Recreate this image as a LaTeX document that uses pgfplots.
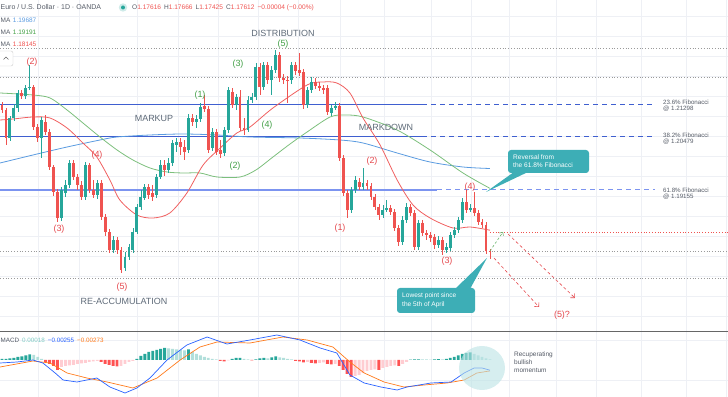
\documentclass[border=0pt]{standalone}
\usepackage{pgfplots}
\pgfplotsset{compat=1.18}
\usepackage{pgfplotstable}
\usepackage{fontspec}
\setmainfont{Liberation Sans}
\usetikzlibrary{arrows.meta}

\definecolor{upc}{HTML}{26A69A}
\definecolor{dnc}{HTML}{EF5350}
\definecolor{mared}{HTML}{F06060}
\definecolor{magreen}{HTML}{7CBF7C}
\definecolor{mablue}{HTML}{5A9BE0}
\definecolor{fibdark}{HTML}{3F5FD0}
\definecolor{fiblight}{HTML}{7C94F0}
\definecolor{wgreen}{HTML}{43A047}
\definecolor{wred}{HTML}{E5484D}
\definecolor{slate}{HTML}{5E6A78}
\definecolor{calloutc}{HTML}{3DAEB6}
\definecolor{gridc}{HTML}{EEF0F5}
\definecolor{dotg}{HTML}{9A9A9A}
\definecolor{macdblue}{HTML}{2962FF}
\definecolor{macdorange}{HTML}{FF7A1A}
\definecolor{hdg}{HTML}{26A69A}
\definecolor{hlg}{HTML}{B2DFDB}
\definecolor{hdr}{HTML}{FF5252}
\definecolor{hlr}{HTML}{FFCDD2}
\definecolor{txtg}{HTML}{555B66}
\definecolor{histtxt}{HTML}{80CBC4}
\newcommand{\fs}[1]{\fontsize{#1}{#1}\selectfont}

\pgfplotsset{
  panel/.style={
    scale only axis, width=728bp,
    xmin=-0.504, xmax=183.0,
    axis line style={draw=none}, major tick length=0pt,
    scaled ticks=false,
    xticklabel={\relax}, yticklabel={\relax},
    xtick={9.07,19.4,34.0,44.4,54.5,64.5,74.6,85.2,96.3,108.1,118.2,127.8,139.7,149.7,161.1,172.4,182.5},
    grid=major, major grid style={draw=gridc, line width=0.6bp},
    clip=true,
  }
}

\pgfplotstableread{
i o h l c
0 1.21275 1.21350 1.21075 1.21150
1 1.21150 1.21200 1.20275 1.20450
2 1.20450 1.21000 1.20375 1.20950
3 1.20950 1.21300 1.20875 1.21200
4 1.21200 1.21650 1.21100 1.21575
5 1.21575 1.21650 1.21425 1.21500
6 1.21500 1.21775 1.21425 1.21700
7 1.21700 1.22275 1.21650 1.21725
8 1.21725 1.21775 1.20650 1.20725
9 1.20725 1.20800 1.20350 1.20450
10 1.20450 1.20975 1.19950 1.20900
11 1.20850 1.21025 1.20525 1.20600
12 1.20600 1.20675 1.19650 1.19725
13 1.19725 1.19775 1.19000 1.19100
14 1.19100 1.19175 1.18350 1.18450
15 1.18450 1.19225 1.18375 1.19150
16 1.19075 1.19400 1.18975 1.19275
17 1.19275 1.19900 1.19200 1.19825
18 1.19825 1.19900 1.19400 1.19475
19 1.19475 1.19550 1.19150 1.19275
20 1.19275 1.19375 1.18900 1.18975
21 1.18975 1.19850 1.18900 1.19775
22 1.19775 1.19825 1.19075 1.19150
23 1.19150 1.19400 1.18950 1.19025
24 1.19025 1.19400 1.18925 1.19325
25 1.19325 1.19400 1.18400 1.18475
26 1.18475 1.18550 1.18000 1.18100
27 1.18100 1.18175 1.17575 1.17650
28 1.17650 1.18000 1.17575 1.17900
29 1.17900 1.17975 1.17550 1.17650
30 1.17650 1.17725 1.17075 1.17150
31 1.17200 1.17600 1.17125 1.17475
32 1.17475 1.17800 1.17400 1.17725
33 1.17650 1.18200 1.17575 1.18100
34 1.18100 1.18800 1.18050 1.18725
35 1.18725 1.19150 1.18650 1.18975
36 1.18950 1.19300 1.18900 1.19225
37 1.19225 1.19300 1.18925 1.19025
38 1.19075 1.19275 1.18875 1.18975
39 1.19025 1.19550 1.18950 1.19475
40 1.19475 1.19900 1.19425 1.19775
41 1.19775 1.19900 1.19500 1.19650
42 1.19650 1.19950 1.19575 1.19825
43 1.19825 1.20400 1.19750 1.20325
44 1.20275 1.20450 1.20100 1.20350
45 1.20350 1.20450 1.20025 1.20225
46 1.20225 1.20400 1.19900 1.20100
47 1.20150 1.21050 1.20075 1.20950
48 1.20950 1.21050 1.20750 1.20850
49 1.20850 1.21025 1.20700 1.20925
50 1.20925 1.21325 1.20850 1.21225
51 1.21250 1.21525 1.21100 1.21175
52 1.21175 1.21250 1.20075 1.20150
53 1.20200 1.20700 1.20125 1.20600
54 1.20600 1.20675 1.20025 1.20100
55 1.20150 1.20400 1.19950 1.20050
56 1.20075 1.20725 1.20000 1.20650
57 1.20650 1.21725 1.20575 1.21650
58 1.21600 1.21700 1.21200 1.21275
59 1.21275 1.21550 1.21150 1.21475
60 1.21475 1.21650 1.20625 1.20700
61 1.20700 1.20950 1.20525 1.20650
62 1.20650 1.21500 1.20600 1.21400
63 1.21400 1.21575 1.21325 1.21475
64 1.21475 1.22325 1.21400 1.22225
65 1.22225 1.22325 1.21525 1.21725
66 1.21725 1.22350 1.21650 1.22275
67 1.22275 1.22350 1.21800 1.21900
68 1.21900 1.22250 1.21525 1.22150
69 1.22150 1.22650 1.22075 1.22525
70 1.22525 1.22600 1.21850 1.21950
71 1.21950 1.22050 1.21800 1.21900
72 1.21900 1.22000 1.21325 1.21875
73 1.21900 1.22350 1.21800 1.22275
74 1.22275 1.22350 1.22025 1.22125
75 1.22150 1.22575 1.22000 1.22075
76 1.22100 1.22175 1.21175 1.21275
77 1.21275 1.21725 1.21200 1.21650
78 1.21650 1.21975 1.21575 1.21850
79 1.21850 1.21950 1.21675 1.21750
80 1.21750 1.21850 1.21625 1.21700
81 1.21700 1.21775 1.21550 1.21650
82 1.21700 1.21775 1.21025 1.21100
83 1.21075 1.21275 1.21000 1.21200
84 1.21200 1.21350 1.21150 1.21250
85 1.21250 1.21325 1.19875 1.19950
86 1.19950 1.20025 1.19000 1.19075
87 1.19075 1.19150 1.18450 1.18650
88 1.18650 1.19225 1.18575 1.19150
89 1.19150 1.19500 1.19075 1.19400
90 1.19350 1.19450 1.19150 1.19225
91 1.19225 1.19700 1.19150 1.19325
92 1.19325 1.19400 1.19150 1.19250
93 1.19250 1.19325 1.18900 1.18975
94 1.18975 1.19050 1.18650 1.18725
95 1.18725 1.18800 1.18400 1.18525
96 1.18525 1.18775 1.18450 1.18650
97 1.18650 1.18900 1.18600 1.18700
98 1.18700 1.18775 1.18525 1.18600
99 1.18600 1.18675 1.18125 1.18200
100 1.18200 1.18275 1.17750 1.17850
101 1.17850 1.18500 1.17775 1.18400
102 1.18400 1.18825 1.18325 1.18725
103 1.18725 1.18800 1.18500 1.18575
104 1.18575 1.18650 1.17650 1.17725
105 1.17725 1.18400 1.17650 1.18325
106 1.18325 1.18400 1.18000 1.18075
107 1.18075 1.18150 1.17900 1.18025
108 1.18025 1.18100 1.17850 1.17950
109 1.17975 1.18050 1.17675 1.17775
110 1.17775 1.18000 1.17700 1.17900
111 1.17900 1.17975 1.17525 1.17650
112 1.17650 1.17825 1.17575 1.17725
113 1.17700 1.18100 1.17625 1.18025
114 1.18025 1.18225 1.17950 1.18150
115 1.18150 1.18475 1.18075 1.18400
116 1.18400 1.18950 1.18325 1.18850
117 1.18850 1.19150 1.18575 1.18650
118 1.18650 1.18800 1.18600 1.18700
119 1.18700 1.19100 1.18500 1.18575
120 1.18575 1.18650 1.18275 1.18350
121 1.18350 1.18425 1.18200 1.18275
122 1.18275 1.18350 1.17550 1.17616
123 1.17616 1.17666 1.17425 1.17612
}\ohlc

\begin{document}
\begin{tikzpicture}
\useasboundingbox (0bp,0bp) rectangle (728bp,397bp);

% ---------------- main price panel ----------------
\begin{axis}[panel,
  at={(0bp,66bp)}, anchor=south west, height=331bp,
  ymin=1.15625, ymax=1.2390,
  ytick={1.160,1.165,1.170,1.175,1.180,1.185,1.190,1.195,1.200,1.205,1.210,1.215,1.220,1.225,1.230,1.235},
]
% horizontal dotted levels
\addplot[dotg, dotted, line width=0.8bp] coordinates {(-0.5,1.22700) (183,1.22700)};
\addplot[dotg, dotted, line width=0.8bp] coordinates {(-0.5,1.21975) (183,1.21975)};
\addplot[dotg, dotted, line width=0.8bp] coordinates {(-0.5,1.17625) (183,1.17625)};
\addplot[dotg, dotted, line width=0.8bp] coordinates {(-0.5,1.16950) (183,1.16950)};
\addplot[dnc, dotted, line width=0.8bp] coordinates {(123,1.18100) (183,1.18100)};
% Fibonacci levels
\addplot[fibdark, line width=1.1bp] coordinates {(-0.5,1.21298) (105.9,1.21298)};
\addplot[fibdark, line width=0.9bp, dash pattern=on 5bp off 4bp] coordinates {(105.9,1.21298) (164.6,1.21298)};
\addplot[fibdark, line width=1.1bp] coordinates {(-0.5,1.20479) (105.9,1.20479)};
\addplot[fibdark, line width=0.9bp, dash pattern=on 5bp off 4bp] coordinates {(105.9,1.20479) (164.6,1.20479)};
\addplot[fiblight, line width=1.8bp] coordinates {(-0.5,1.19155) (109.7,1.19155)};
\addplot[fiblight, line width=1.3bp, dash pattern=on 5bp off 4bp] coordinates {(109.7,1.19155) (164.6,1.19155)};
% moving averages
\addplot[mablue, line width=0.8bp, smooth] coordinates {(-0.5,1.19825)(7.8,1.20025)(16.4,1.20225)(24.7,1.20400)(29,1.20475)(37.3,1.20525)(45.6,1.20550)(54.2,1.20525)(62.5,1.20475)(75.1,1.20450)(85.2,1.20400)(91,1.20325)(99.6,1.20075)(107.9,1.19850)(116.2,1.19725)(123,1.19687)};
\addplot[magreen, line width=0.8bp, smooth] coordinates {(-0.5,1.21575)(7.8,1.21525)(12.1,1.21450)(16.4,1.21150)(20.4,1.20825)(24.7,1.20475)(29,1.20150)(33,1.19900)(37.3,1.19700)(41.6,1.19600)(45.6,1.19575)(49.9,1.19575)(54.2,1.19475)(60,1.19475)(64,1.19650)(68.3,1.19975)(72.6,1.20300)(76.9,1.20600)(82.7,1.20975)(86.5,1.21025)(91,1.20975)(99.6,1.20650)(107.9,1.20150)(116.2,1.19575)(123,1.19191)};
\addplot[mared, line width=0.8bp, smooth] coordinates {(-0.5,1.20900)(2.8,1.20925)(7.8,1.20975)(12.1,1.20950)(16.4,1.20700)(20.4,1.20325)(23.9,1.19975)(27.2,1.19400)(29.7,1.18900)(34,1.18525)(38.1,1.18450)(42.3,1.18575)(46.6,1.19075)(50.7,1.19775)(55,1.20200)(59.2,1.20575)(62.5,1.20725)(68.3,1.21200)(76.9,1.21775)(80.9,1.21850)(84.4,1.21825)(87.7,1.21575)(91,1.20950)(95.3,1.20275)(99.6,1.19400)(103.6,1.18775)(107.9,1.18450)(113.7,1.18200)(118,1.18225)(123,1.18145)};
% candle wicks
\addplot[draw=none, forget plot, restrict expr to domain={\thisrow{c}-\thisrow{o}}{0:1},
  error bars/.cd, y dir=plus, y explicit, error mark=none,
  error bar style={draw=upc, line width=0.7bp}]
  table[x=i, y=l, y error expr={\thisrow{h}-\thisrow{l}}] {\ohlc};
\addplot[draw=none, forget plot, restrict expr to domain={\thisrow{c}-\thisrow{o}}{-1:-0.000001},
  error bars/.cd, y dir=plus, y explicit, error mark=none,
  error bar style={draw=dnc, line width=0.7bp}]
  table[x=i, y=l, y error expr={\thisrow{h}-\thisrow{l}}] {\ohlc};
% candle bodies
\addplot[draw=none, forget plot, restrict expr to domain={\thisrow{c}-\thisrow{o}}{0:1},
  error bars/.cd, y dir=plus, y explicit, error mark=none,
  error bar style={draw=upc, line width=2.9bp}]
  table[x=i, y=o, y error expr={max(\thisrow{c}-\thisrow{o},0.00022)}] {\ohlc};
\addplot[draw=none, forget plot, restrict expr to domain={\thisrow{c}-\thisrow{o}}{-1:-0.000001},
  error bars/.cd, y dir=plus, y explicit, error mark=none,
  error bar style={draw=dnc, line width=2.9bp}]
  table[x=i, y=c, y error expr={max(\thisrow{o}-\thisrow{c},0.00022)}] {\ohlc};
\end{axis}

% ---------------- MACD panel ----------------
\begin{axis}[panel,
  at={(0bp,0bp)}, anchor=south west, height=66bp,
  ymin=-0.00925, ymax=0.00725,
  ytick={-0.005,0.005},
]
\addplot[ybar, bar width=0.73, bar shift=0pt, fill=hdg, draw=none] coordinates {(0,0.00025)(1,0.00025)(2,0.000375)(3,0.0005)(4,0.00075)(5,0.000875)(6,0.001125)(7,0.001375)(34,0.00025)(35,0.001)(36,0.0015)(37,0.002)(38,0.00225)(39,0.0025)(40,0.00275)(41,0.003)(47,0.002625)(58,0.00025)(59,0.0005)(60,0.0005)(64,0.000125)(65,0.000375)(66,0.0005)(68,0.000625)(69,0.000875)(103,0.000075)(104,0.000125)(105,0.000175)(109,0.000125)(110,0.0002)(112,0.00025)(113,0.0005)(114,0.00075)(115,0.001125)(116,0.0015)(117,0.00175)(118,0.001875)};
\addplot[ybar, bar width=0.73, bar shift=0pt, fill=hlg, draw=none] coordinates {(8,0.00125)(9,0.00075)(10,0.00025)(42,0.002875)(43,0.00275)(44,0.002625)(45,0.0025)(46,0.002375)(48,0.002)(49,0.0015)(50,0.001125)(51,0.00075)(52,0.0005)(53,0.00025)(54,0.000125)(61,0.00025)(62,0.000125)(67,0.000375)(70,0.000625)(71,0.0005)(72,0.00025)(73,0.000125)(106,0.000125)(107,0.000125)(108,0.000075)(111,0.00015)(119,0.0015)(120,0.001125)(121,0.00075)(122,0.000375)(123,0.00018)};
\addplot[ybar, bar width=0.73, bar shift=0pt, fill=hdr, draw=none] coordinates {(11,-0.0005)(12,-0.001)(13,-0.0015)(14,-0.0025)(25,-0.0005)(26,-0.001)(27,-0.00125)(28,-0.0015)(29,-0.001625)(55,-0.00025)(56,-0.000375)(63,-0.000125)(74,-0.00025)(75,-0.000375)(76,-0.000625)(78,-0.00075)(79,-0.000875)(82,-0.001)(83,-0.001125)(85,-0.0015)(86,-0.0025)(87,-0.0035)(88,-0.00425)(95,-0.0025)(100,-0.0015)};
\addplot[ybar, bar width=0.73, bar shift=0pt, fill=hlr, draw=none] coordinates {(15,-0.00175)(16,-0.0015)(17,-0.001375)(18,-0.00125)(19,-0.001)(20,-0.000875)(21,-0.00075)(22,-0.0005)(23,-0.000375)(24,-0.00025)(30,-0.0015)(31,-0.001)(32,-0.0005)(33,-0.00025)(57,-0.000125)(77,-0.0005)(80,-0.00075)(81,-0.000625)(84,-0.001)(89,-0.004)(90,-0.00375)(91,-0.00325)(92,-0.00275)(93,-0.0025)(94,-0.002375)(96,-0.002)(97,-0.00175)(98,-0.0015)(99,-0.001375)(101,-0.001)(102,-0.0005)};
\addplot[macdorange, line width=0.7bp] coordinates {(-0.5,-0.00175)(7.8,-0.00025)(12.1,-0.00075)(16.4,-0.00325)(21.4,-0.0045)(26.5,-0.0055)(33,-0.007)(39.1,-0.0045)(44.9,0)(49.9,0.00325)(54.2,0.0045)(62.5,0.00425)(70.8,0.00575)(76.9,0.005)(83.4,0.00325)(87.7,-0.0005)(91.3,-0.00325)(96.3,-0.0055)(101.3,-0.00675)(106.4,-0.00625)(112.2,-0.00575)(116.5,-0.005)(119.7,-0.00325)(123,-0.00273)};
\addplot[macdblue, line width=0.7bp] coordinates {(-0.5,-0.00075)(3.8,-0.0005)(7.8,0)(10.3,-0.00075)(13.4,-0.00325)(15.4,-0.005)(18.9,-0.0055)(23.9,-0.0045)(27.2,-0.00675)(31,-0.00825)(34,-0.007)(37.3,-0.0045)(41.6,0)(46.6,0.00375)(51.7,0.00575)(56.7,0.004)(62.5,0.005)(69.3,0.00625)(75.1,0.005)(80.2,0.003)(84.4,0.00175)(87.7,-0.00375)(91.3,-0.00575)(95.5,-0.00675)(99.6,-0.0075)(102.1,-0.00675)(108.1,-0.00575)(113.2,-0.0055)(116.5,-0.00325)(119,-0.002)(121,-0.002)(123,-0.00255)};
\end{axis}

% ---------------- annotations (pixel frame, y downward) ----------------
\begin{scope}[x=1bp, y=-1bp, yshift=397bp]
% panel separator
\draw[black!60, line width=1bp] (0,331.5) -- (728,331.5);
% header
\node[anchor=west, inner sep=0pt, font=\fs{7}, text=txtg] at (0.5,7.5) {Euro / U.S. Dollar · 1D · OANDA};
\fill[upc!22] (123,7.5) circle (4.2);
\fill[upc] (123,7.5) circle (2);
\node[anchor=west, inner sep=0pt, font=\fs{6.6}] at (132,7.5) {\textcolor{txtg}{O}\textcolor{dnc}{1.17616}\hspace{3bp}\textcolor{txtg}{H}\textcolor{dnc}{1.17666}\hspace{3bp}\textcolor{txtg}{L}\textcolor{dnc}{1.17425}\hspace{3bp}\textcolor{txtg}{C}\textcolor{dnc}{1.17612}\hspace{3bp}\textcolor{dnc}{−0.00004 (−0.00\%)}};
\node[anchor=west, inner sep=0pt, font=\fs{6.5}] at (0.5,20) {\textcolor{txtg}{MA}\hspace{2.5bp}\textcolor{mablue}{1.19687}};
\node[anchor=west, inner sep=0pt, font=\fs{6.5}] at (0.5,32) {\textcolor{txtg}{MA}\hspace{2.5bp}\textcolor{wgreen}{1.19191}};
\node[anchor=west, inner sep=0pt, font=\fs{6.5}] at (0.5,44) {\textcolor{txtg}{MA}\hspace{2.5bp}\textcolor{dnc}{1.18145}};
\draw[black!20, fill=white, rounded corners=2bp] (-3,51) rectangle (13,66);
\draw[black!60, line width=0.6bp] (3.5,59.5) -- (6,57) -- (8.5,59.5);
% MACD header
\node[anchor=west, inner sep=0pt, font=\fs{6.3}] at (0.5,340) {\textcolor{txtg}{MACD}\hspace{3bp}\textcolor{histtxt}{0.00018}\hspace{3bp}\textcolor{macdblue}{−0.00255}\hspace{3bp}\textcolor{macdorange}{−0.00273}};
% phase labels
\node[font=\fs{9}, text=slate] at (283,33) {DISTRIBUTION};
\node[font=\fs{9}, text=slate] at (154,118) {MARKUP};
\node[font=\fs{9}, text=slate] at (386,127) {MARKDOWN};
\node[font=\fs{9}, text=slate] at (124,301) {RE-ACCUMULATION};
% wave labels
\node[font=\fs{9}, text=wgreen] at (200,95) {(1)};
\node[font=\fs{9}, text=wgreen] at (235,166) {(2)};
\node[font=\fs{9}, text=wgreen] at (238,64) {(3)};
\node[font=\fs{9}, text=wgreen] at (267,125) {(4)};
\node[font=\fs{9}, text=wgreen] at (283,44) {(5)};
\node[font=\fs{9}, text=wred] at (32,62) {(2)};
\node[font=\fs{9}, text=wred] at (59,229) {(3)};
\node[font=\fs{9}, text=wred] at (97,155) {(4)};
\node[font=\fs{9}, text=wred] at (122,287) {(5)};
\node[font=\fs{9}, text=wred] at (340,228) {(1)};
\node[font=\fs{9}, text=wred] at (372,161) {(2)};
\node[font=\fs{9}, text=wred] at (447,261) {(3)};
\node[font=\fs{9}, text=wred] at (470,187) {(4)};
\node[font=\fs{9}, text=wred] at (562,315) {(5)?};
% Fibonacci labels
\node[anchor=west, inner sep=0pt, font=\fs{6.2}, text=txtg] at (663,102.5) {23.6\% Fibonacci};
\node[anchor=west, inner sep=0pt, font=\fs{6.2}, text=txtg] at (663,109) {@ 1.21298};
\node[anchor=west, inner sep=0pt, font=\fs{6.2}, text=txtg] at (663,135.5) {38.2\% Fibonacci};
\node[anchor=west, inner sep=0pt, font=\fs{6.2}, text=txtg] at (663,142) {@ 1.20479};
\node[anchor=west, inner sep=0pt, font=\fs{6.2}, text=txtg] at (663,190) {61.8\% Fibonacci};
\node[anchor=west, inner sep=0pt, font=\fs{6.2}, text=txtg] at (663,196.5) {@ 1.19155};
% projection arrows
\draw[wgreen!80, line width=0.6bp, dash pattern=on 2.5bp off 2bp, -{Straight Barb[length=2.5bp, width=5bp]}] (490,251) -- (503,232);
\draw[wred, line width=0.6bp, dash pattern=on 3bp off 2.5bp, -{Straight Barb[length=3bp, width=6bp]}] (508,234) -- (575,298);
\draw[wred, line width=0.6bp, dash pattern=on 3bp off 2.5bp, -{Straight Barb[length=3bp, width=6bp]}] (494,258) -- (539,307);
% callouts
\fill[calloutc] (514,172) -- (486,192) -- (528,172) -- cycle;
\fill[calloutc, rounded corners=3bp] (508,150) rectangle (589,173);
\node[anchor=west, inner sep=0pt, font=\fs{6.6}, text=white] at (513,157) {Reversal from};
\node[anchor=west, inner sep=0pt, font=\fs{6.6}, text=white] at (513,165.5) {the 61.8\% Fibonacci};
\fill[calloutc] (455,289) -- (487,258) -- (470,289) -- cycle;
\fill[calloutc, rounded corners=3bp] (397,288) rectangle (475,313);
\node[anchor=west, inner sep=0pt, font=\fs{6.6}, text=white] at (402,296) {Lowest point since};
\node[anchor=west, inner sep=0pt, font=\fs{6.6}, text=white] at (402,304.5) {the 5th of April};
% MACD highlight
\fill[calloutc!35, fill opacity=0.6] (482,368) ellipse [x radius=23bp, y radius=22bp];
\node[anchor=west, inner sep=0pt, font=\fs{6.5}, text=txtg] at (514,355) {Recuperating};
\node[anchor=west, inner sep=0pt, font=\fs{6.5}, text=txtg] at (514,362.5) {bullish};
\node[anchor=west, inner sep=0pt, font=\fs{6.5}, text=txtg] at (514,370) {momentum};
\end{scope}
\end{tikzpicture}
\end{document}
